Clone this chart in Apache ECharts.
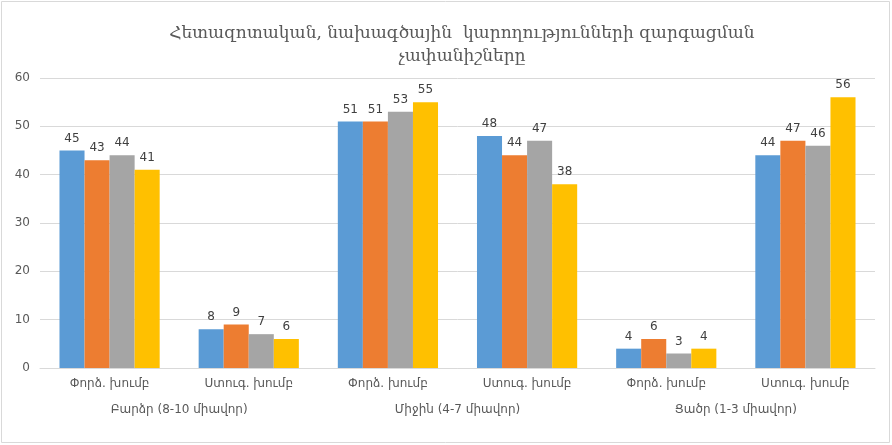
<!DOCTYPE html>
<html>
<head>
<meta charset="utf-8">
<script src="https://cdn.jsdelivr.net/npm/echarts@6/dist/echarts.min.js"></script>
<style>
    html, body { margin: 0; padding: 0; background: #fff; }
    #chart { width: 892px; height: 445px; }
</style>
</head>
<body>
<div id="chart"></div>
<script>
// 数据
const groups = ['Փորձ. խումբ', 'Ստուգ. խումբ', 'Փորձ. խումբ', 'Ստուգ. խումբ', 'Փորձ. խումբ', 'Ստուգ. խումբ'];
const levels = ['Բարձր (8-10 միավոր)', 'Միջին (4-7 միավոր)', 'Ցածր (1-3 միավոր)'];
const series1 = [45, 8, 51, 48, 4, 44];
const series2 = [43, 9, 51, 44, 6, 47];
const series3 = [44, 7, 53, 47, 3, 46];
const series4 = [41, 6, 55, 38, 4, 56];
const colors = ['#5B9BD5', '#ED7D31', '#A5A5A5', '#FFC000'];

const chart = echarts.init(document.getElementById('chart'));

function makeBar(data, color) {
    return {
        type: 'bar',
        data: data,
        barGap: 0,
        barCategoryGap: '28%',
        itemStyle: { color: color },
        label: {
            show: true,
            position: 'top',
            distance: 6,
            color: '#404040',
            fontSize: 12,
            fontFamily: 'DejaVu Sans'
        }
    };
}

chart.setOption({
    animation: false,
    title: {
        text: 'Հետազոտական, նախագծային  կարողությունների զարգացման\nչափանիշները',
        left: 457,
        top: 17,
        textAlign: 'center',
        textStyle: {
            fontFamily: 'DejaVu Serif',
            fontWeight: 'normal',
            fontSize: 17,
            color: '#595959',
            lineHeight: 23
        }
    },
    grid: { left: 40, right: 17, top: 78, bottom: 77, containLabel: false },
    graphic: [{
        type: 'rect',
        shape: { x: 1.5, y: 1.5, width: 888, height: 441 },
        style: { fill: 'none', stroke: '#d9d9d9', lineWidth: 1 }
    }],
    xAxis: [
        {
            type: 'category',
            data: groups,
            axisLine: { lineStyle: { color: '#d9d9d9' } },
            axisTick: { show: false },
            axisLabel: { color: '#595959', fontSize: 12, fontFamily: 'DejaVu Sans', margin: 10, interval: 0 }
        },
        {
            type: 'category',
            data: levels,
            position: 'bottom',
            offset: 26,
            axisLine: { show: false },
            axisTick: { show: false },
            axisLabel: { color: '#595959', fontSize: 12, fontFamily: 'DejaVu Sans', margin: 10, interval: 0 }
        }
    ],
    yAxis: {
        type: 'value',
        min: 0,
        max: 60,
        interval: 10,
        axisLine: { show: false },
        axisTick: { show: false },
        axisLabel: { color: '#595959', fontSize: 12, fontFamily: 'DejaVu Sans', margin: 10 },
        splitLine: { lineStyle: { color: '#d9d9d9' } }
    },
    series: [
        makeBar(series1, colors[0]),
        makeBar(series2, colors[1]),
        makeBar(series3, colors[2]),
        makeBar(series4, colors[3])
    ]
});
</script>
</body>
</html>
